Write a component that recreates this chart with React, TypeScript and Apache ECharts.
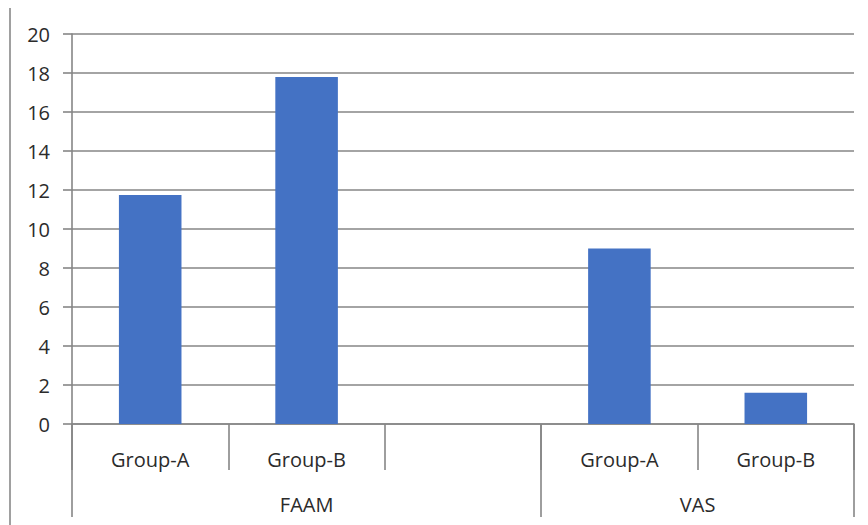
import React, { useEffect, useRef } from "react";
import * as echarts from "echarts";

const categories = ["Group-A", "Group-B", "", "Group-A", "Group-B"];
const values: (number | null)[] = [11.75, 17.8, null, 9.0, 1.6];
const groupNames = ["FAAM", "VAS"];
const groupSpans = [3, 2];
const yTicks = { min: 0, max: 20, interval: 2 };

const FONT = "Open Sans";
const GRAY = "#868686";
const TEXT = "#2b2b2b";

export default function App() {
  const ref = useRef<HTMLDivElement>(null);
  useEffect(() => {
    if (!ref.current) return;
    const chart = echarts.init(ref.current, null, { renderer: "svg" });

    const bounds: number[] = [0];
    groupSpans.forEach((s) => bounds.push(bounds[bounds.length - 1] + s));
    const centers = groupSpans.map((s, i) => bounds[i] + s / 2);
    const total = bounds[bounds.length - 1];

    chart.setOption({
      animation: false,
      backgroundColor: "#ffffff",
      textStyle: { fontFamily: FONT },
      grid: { left: 72, right: 14, top: 34, bottom: 101, containLabel: false },
      graphic: [
        {
          type: "line",
          shape: { x1: 10, y1: 8, x2: 10, y2: 525 },
          style: { stroke: "#a0a0a0", lineWidth: 2 },
        },
      ],
      xAxis: [
        {
          type: "category",
          data: categories,
          position: "bottom",
          axisLine: { show: true, lineStyle: { color: GRAY, width: 1.6 } },
          axisTick: { show: true, interval: 0, length: 46, alignWithLabel: false, lineStyle: { color: GRAY, width: 1.6 } },
          axisLabel: { interval: 0, margin: 25, fontSize: 20, color: TEXT, fontFamily: FONT },
          splitLine: { show: false },
        },
        {
          type: "value",
          min: 0,
          max: total,
          position: "bottom",
          offset: 0,
          axisLine: { show: false },
          axisTick: { show: true, length: 93, customValues: bounds, lineStyle: { color: GRAY, width: 1.6 } },
          axisLabel: {
            show: true,
            customValues: centers,
            margin: 70,
            fontSize: 20,
            color: TEXT,
            fontFamily: FONT,
            formatter: (v: number) => {
              const i = centers.findIndex((c) => Math.abs(c - v) < 1e-6);
              return i >= 0 ? groupNames[i] : "";
            },
          },
          splitLine: { show: false },
        },
      ],
      yAxis: {
        type: "value",
        min: yTicks.min,
        max: yTicks.max,
        interval: yTicks.interval,
        axisLine: { show: true, lineStyle: { color: GRAY, width: 1.6 } },
        axisTick: { show: true, length: 9, lineStyle: { color: GRAY, width: 1.6 } },
        axisLabel: { margin: 22, fontSize: 20, color: TEXT, fontFamily: FONT },
        splitLine: { show: true, lineStyle: { color: GRAY, width: 1.6 } },
      },
      series: [
        {
          type: "bar",
          xAxisIndex: 0,
          data: values,
          barWidth: "40%",
          itemStyle: { color: "#4472C4" },
        },
      ],
    });
    return () => chart.dispose();
  }, []);
  return <div ref={ref} style={{ position: "fixed", left: 0, top: 0, width: 868, height: 525 }} />;
}
